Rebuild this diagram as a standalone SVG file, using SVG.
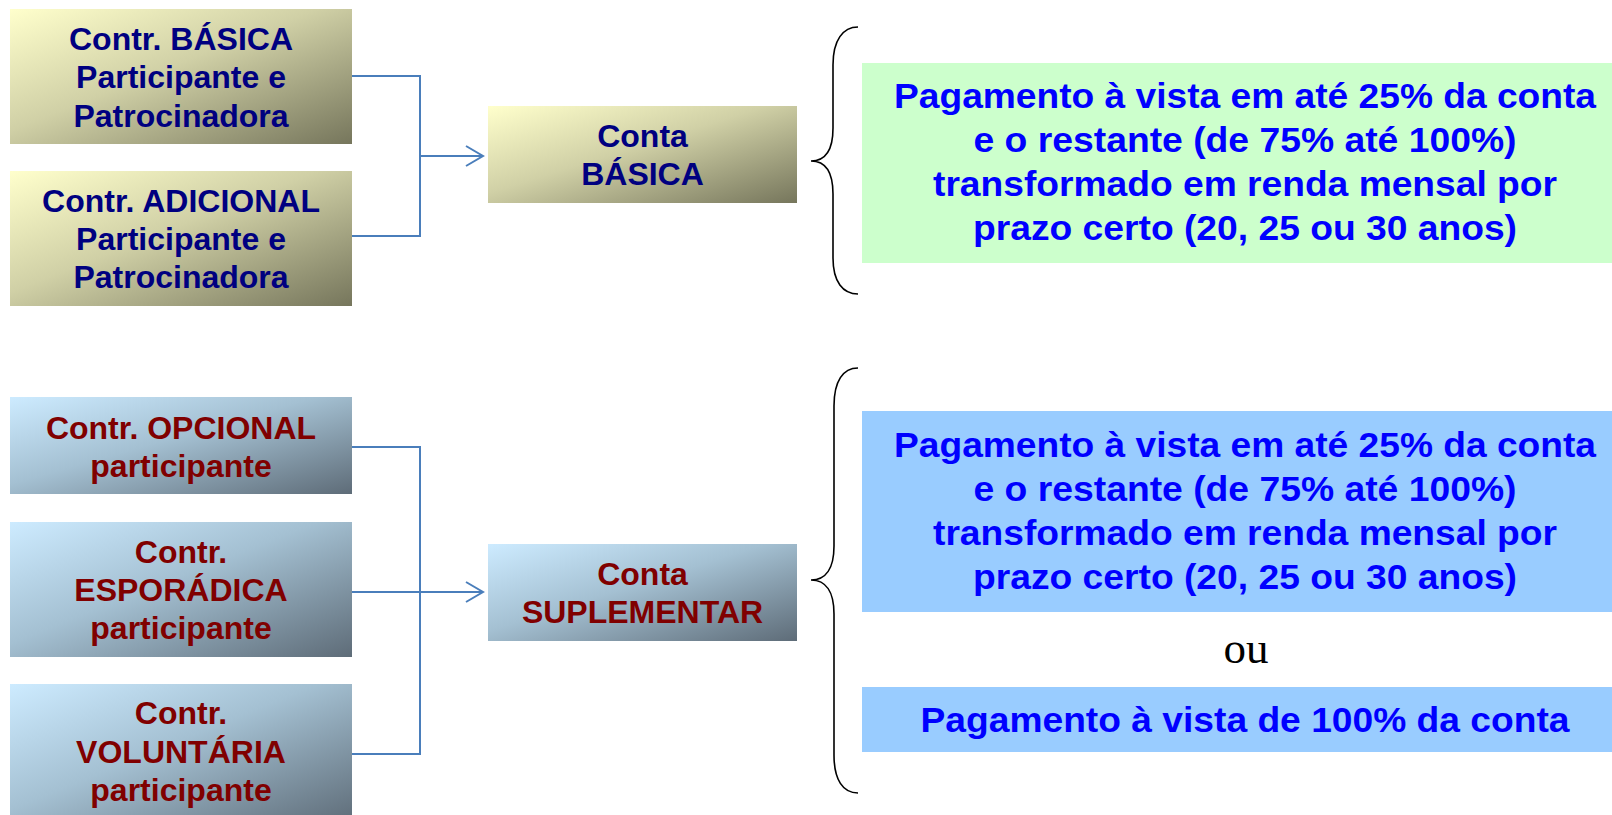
<svg xmlns="http://www.w3.org/2000/svg" width="1612" height="815" viewBox="0 0 1612 815">
<defs>
<linearGradient id="gOlive" x1="0" y1="0" x2="1" y2="1">
<stop offset="0" stop-color="#FFFFCC"/>
<stop offset="0.45" stop-color="#D0D0A6"/>
<stop offset="1" stop-color="#76765C"/>
</linearGradient>
<linearGradient id="gBlue" x1="0" y1="0" x2="1" y2="1">
<stop offset="0" stop-color="#CDEBFF"/>
<stop offset="0.45" stop-color="#A4C0D2"/>
<stop offset="1" stop-color="#5E6C78"/>
</linearGradient>
<marker id="arr" viewBox="0 0 20 22" refX="18" refY="11" markerWidth="20" markerHeight="22" markerUnits="userSpaceOnUse" orient="auto">
<path d="M1,1 L18,11 L1,21" fill="none" stroke="#4A7EBB" stroke-width="2"/>
</marker>
<style>
.lt{font-family:"Liberation Sans",Arial,sans-serif;font-weight:bold;font-size:32px;text-anchor:middle}
.navy{fill:#000080}
.dred{fill:#800000}
.rt{font-family:"Liberation Sans",Arial,sans-serif;font-weight:bold;font-size:35px;text-anchor:middle;fill:#0000FF}
.conn{fill:none;stroke:#4A7EBB;stroke-width:2}
.brace{fill:none;stroke:#000;stroke-width:1.6}
</style>
</defs>
<rect width="1612" height="815" fill="#FFFFFF"/>

<g id="connectors">
<path class="conn" d="M352,76 H420 V236 H352"/>
<path class="conn" d="M420,156 H483" marker-end="url(#arr)"/>
<path class="conn" d="M352,447 H420 V754 H352"/>
<path class="conn" d="M352,592 H483" marker-end="url(#arr)"/>
<path class="brace" d="M858,27 C843,27 833,40 833,65 L833,128 C833,150 825,161 811,161 C825,161 833,172 833,194 L833,258 C833,282 843,294 858,294"/>
<path class="brace" d="M858,368 C843,368 834,381 834,406 L834,546 C834,568 826,580 811,580 C826,580 834,592 834,614 L834,755 C834,780 843,793 858,793"/>
</g>

<g id="contr-basica">
<rect x="10" y="9" width="342" height="135" fill="url(#gOlive)"/>
<text class="lt navy" x="181" y="50">Contr. BÁSICA</text>
<text class="lt navy" x="181" y="88">Participante e</text>
<text class="lt navy" x="181" y="127">Patrocinadora</text>
</g>
<g id="contr-adicional">
<rect x="10" y="171" width="342" height="135" fill="url(#gOlive)"/>
<text class="lt navy" x="181" y="212">Contr. ADICIONAL</text>
<text class="lt navy" x="181" y="250">Participante e</text>
<text class="lt navy" x="181" y="288">Patrocinadora</text>
</g>
<g id="conta-basica">
<rect x="488" y="106" width="309" height="97" fill="url(#gOlive)"/>
<text class="lt navy" x="642.5" y="147">Conta</text>
<text class="lt navy" x="642.5" y="185">BÁSICA</text>
</g>

<g id="contr-opcional">
<rect x="10" y="397" width="342" height="97" fill="url(#gBlue)"/>
<text class="lt dred" x="181" y="439">Contr. OPCIONAL</text>
<text class="lt dred" x="181" y="477">participante</text>
</g>
<g id="contr-esporadica">
<rect x="10" y="522" width="342" height="135" fill="url(#gBlue)"/>
<text class="lt dred" x="181" y="563">Contr.</text>
<text class="lt dred" x="181" y="601">ESPORÁDICA</text>
<text class="lt dred" x="181" y="639">participante</text>
</g>
<g id="contr-voluntaria">
<rect x="10" y="684" width="342" height="140" fill="url(#gBlue)"/>
<text class="lt dred" x="181" y="724">Contr.</text>
<text class="lt dred" x="181" y="763">VOLUNTÁRIA</text>
<text class="lt dred" x="181" y="801">participante</text>
</g>
<g id="conta-suplementar">
<rect x="488" y="544" width="309" height="97" fill="url(#gBlue)"/>
<text class="lt dred" x="642.5" y="585">Conta</text>
<text class="lt dred" x="642.5" y="623">SUPLEMENTAR</text>
</g>

<g id="pagamento-basica">
<rect x="862" y="63" width="750" height="200" fill="#CCFFCC"/>
<text class="rt" x="1245" y="108" textLength="702" lengthAdjust="spacingAndGlyphs">Pagamento à vista em até 25% da conta</text>
<text class="rt" x="1245" y="152" textLength="543" lengthAdjust="spacingAndGlyphs">e o restante (de 75% até 100%)</text>
<text class="rt" x="1245" y="196" textLength="624" lengthAdjust="spacingAndGlyphs">transformado em renda mensal por</text>
<text class="rt" x="1245" y="240" textLength="544" lengthAdjust="spacingAndGlyphs">prazo certo (20, 25 ou 30 anos)</text>
</g>

<g id="pagamento-suplementar">
<rect x="862" y="411" width="750" height="201" fill="#99CCFF"/>
<text class="rt" x="1245" y="457" textLength="702" lengthAdjust="spacingAndGlyphs">Pagamento à vista em até 25% da conta</text>
<text class="rt" x="1245" y="501" textLength="543" lengthAdjust="spacingAndGlyphs">e o restante (de 75% até 100%)</text>
<text class="rt" x="1245" y="545" textLength="624" lengthAdjust="spacingAndGlyphs">transformado em renda mensal por</text>
<text class="rt" x="1245" y="589" textLength="544" lengthAdjust="spacingAndGlyphs">prazo certo (20, 25 ou 30 anos)</text>
</g>

<g id="ou">
<text x="1246" y="663" font-family="'Liberation Serif','Times New Roman',serif" font-size="45" text-anchor="middle" fill="#000000">ou</text>
</g>

<g id="pagamento-total">
<rect x="862" y="687" width="750" height="65" fill="#99CCFF"/>
<text class="rt" x="1245" y="732" textLength="649" lengthAdjust="spacingAndGlyphs">Pagamento à vista de 100% da conta</text>
</g>
</svg>
